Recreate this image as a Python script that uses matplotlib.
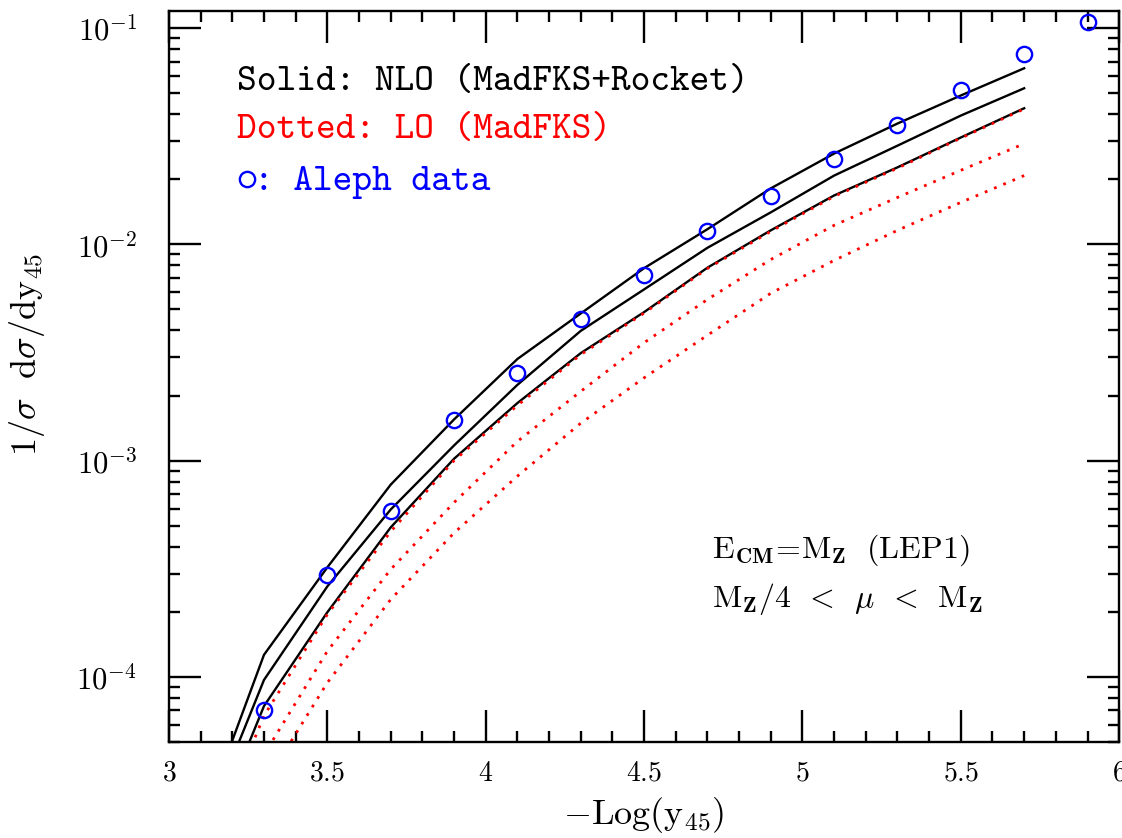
import matplotlib
matplotlib.use('Agg')
import matplotlib.pyplot as plt
from matplotlib.ticker import FixedLocator, FixedFormatter, NullFormatter, LogLocator
from matplotlib.lines import Line2D

plt.rcParams['mathtext.fontset'] = 'cm'
plt.rcParams['axes.unicode_minus'] = False

# ---------------- data ----------------
x_theory = [3.1, 3.3, 3.5, 3.7, 3.9, 4.1, 4.3, 4.5, 4.7, 4.9, 5.1, 5.3, 5.5, 5.7]

nlo_high = [2.04e-5, 1.265e-4, 3.21e-4, 7.74e-4, 1.55e-3, 2.95e-3, 4.79e-3,
            7.76e-3, 1.175e-2, 1.815e-2, 2.63e-2, 3.62e-2, 4.88e-2, 6.52e-2]
nlo_mid = [1.82e-5, 9.68e-5, 2.62e-4, 5.94e-4, 1.175e-3, 2.24e-3, 3.98e-3,
           6.19e-3, 9.64e-3, 1.406e-2, 2.08e-2, 2.86e-2, 3.94e-2, 5.27e-2]
nlo_low = [1.40e-5, 7.33e-5, 1.99e-4, 4.91e-4, 1.02e-3, 1.845e-3, 3.14e-3,
           4.86e-3, 7.80e-3, 1.161e-2, 1.683e-2, 2.27e-2, 3.12e-2, 4.26e-2]

lo_high = [1.29e-5, 6.61e-5, 1.945e-4, 4.70e-4, 1.00e-3, 1.80e-3, 3.09e-3,
           4.81e-3, 7.73e-3, 1.148e-2, 1.667e-2, 2.25e-2, 3.10e-2, 4.23e-2]
lo_mid = [1.0e-5, 4.37e-5, 1.315e-4, 3.14e-4, 6.40e-4, 1.227e-3, 2.09e-3,
          3.51e-3, 5.56e-3, 8.51e-3, 1.225e-2, 1.648e-2, 2.20e-2, 2.92e-2]
lo_low = [6.3e-6, 3.16e-5, 9.4e-5, 2.28e-4, 4.63e-4, 8.47e-4, 1.489e-3,
          2.415e-3, 3.80e-3, 5.94e-3, 8.43e-3, 1.161e-2, 1.563e-2, 2.08e-2]

x_data = [3.3, 3.5, 3.7, 3.9, 4.1, 4.3, 4.5, 4.7, 4.9, 5.1, 5.3, 5.5, 5.7, 5.9]
y_data = [7.03e-5, 2.97e-4, 5.83e-4, 1.545e-3, 2.54e-3, 4.51e-3, 7.21e-3,
          1.148e-2, 1.68e-2, 2.47e-2, 3.55e-2, 5.19e-2, 7.55e-2, 0.107]

x_ticks = [3.0, 3.5, 4.0, 4.5, 5.0, 5.5, 6.0]
x_ticklabels = ['3', '3.5', '4', '4.5', '5', '5.5', '6']
x_minor = [3.1, 3.2, 3.3, 3.4, 3.6, 3.7, 3.8, 3.9, 4.1, 4.2, 4.3, 4.4,
           4.6, 4.7, 4.8, 4.9, 5.1, 5.2, 5.3, 5.4, 5.6, 5.7, 5.8, 5.9]
y_ticks = [1e-4, 1e-3, 1e-2, 1e-1]
y_ticklabels = ['-4', '-3', '-2', '-1']

legend_lines = ['Solid: NLO (MadFKS+Rocket)', 'Dotted: LO (MadFKS)', ': Aleph data']

# ---------------- figure ----------------
fig = plt.figure(figsize=(11.22, 8.38), dpi=100)
ax = fig.add_axes([0.1506, 0.1146, 0.9975 - 0.1506, 0.9869 - 0.1146])

lw = 1.7
for ys in (nlo_high, nlo_mid, nlo_low):
    ax.plot(x_theory, ys, color='black', lw=lw, solid_joinstyle='miter')
for ys in (lo_high, lo_mid, lo_low):
    ax.plot(x_theory, ys, color='red', lw=2.0, linestyle=(0, (1, 2.6)))

ax.plot(x_data, y_data, linestyle='none', marker='o', markersize=11,
        markerfacecolor='none', markeredgecolor='blue', markeredgewidth=1.7,
        clip_on=False, zorder=5)

ax.set_yscale('log')
ax.set_xlim(3.0, 6.0)
ax.set_ylim(5e-5, 0.12)

ax.xaxis.set_major_locator(FixedLocator(x_ticks))
ax.xaxis.set_major_formatter(FixedFormatter([r'$%s$' % t for t in x_ticklabels]))
ax.xaxis.set_minor_locator(FixedLocator(x_minor))
ax.yaxis.set_major_locator(FixedLocator(y_ticks))
ax.yaxis.set_major_formatter(FixedFormatter([r'$10^{%s}$' % t for t in y_ticklabels]))
ax.yaxis.set_minor_locator(LogLocator(base=10, subs=[2, 3, 4, 5, 6, 7, 8, 9]))
ax.yaxis.set_minor_formatter(NullFormatter())

for s in ax.spines.values():
    s.set_linewidth(lw)

ax.tick_params(which='both', direction='in', top=True, right=True, width=lw)
ax.tick_params(which='major', length=23)
ax.tick_params(which='minor', length=8)
ax.tick_params(axis='x', which='major', labelsize=20, pad=12)
ax.tick_params(axis='y', which='major', labelsize=22, pad=23)

ax.set_xlabel(r'$-\mathrm{Log}(\mathrm{y}_{\mathbf{45}})$', fontsize=26)
ax.xaxis.set_label_coords(0.5, -0.072)
ax.xaxis.label.set_va('top')
ax.set_ylabel(r'$1/\sigma\ \ \mathrm{d}\sigma/\mathrm{dy}_{\mathbf{45}}$', fontsize=26)
ax.yaxis.set_label_coords(-0.128, 0.53)

tt = 'cmtt10'
ax.text(0.0717, 0.892, legend_lines[0], transform=ax.transAxes, fontsize=27,
        family=tt, color='black', va='baseline', ha='left')
ax.text(0.0717, 0.826, legend_lines[1], transform=ax.transAxes, fontsize=27,
        family=tt, color='red', va='baseline', ha='left')
ax.add_line(Line2D([0.0817], [0.770], transform=ax.transAxes, marker='o',
                   markersize=11, markerfacecolor='none', markeredgecolor='blue',
                   markeredgewidth=1.7, linestyle='none', clip_on=False))
ax.text(0.0896, 0.755, legend_lines[2], transform=ax.transAxes, fontsize=27,
        family=tt, color='blue', va='baseline', ha='left')

ax.text(0.571, 0.2517, r'$\mathrm{E}_{\mathbf{CM}}\!=\!\mathrm{M}_{\mathbf{Z}}\ \ \mathrm{(LEP1)}$',
        transform=ax.transAxes, fontsize=23, va='baseline', ha='left')
ax.text(0.571, 0.1847, r'$\mathrm{M}_{\mathbf{Z}}/4\ \,<\ \,\mu\ \,<\ \,\mathrm{M}_{\mathbf{Z}}$',
        transform=ax.transAxes, fontsize=23, va='baseline', ha='left')

fig.savefig('out.png', dpi=100)
